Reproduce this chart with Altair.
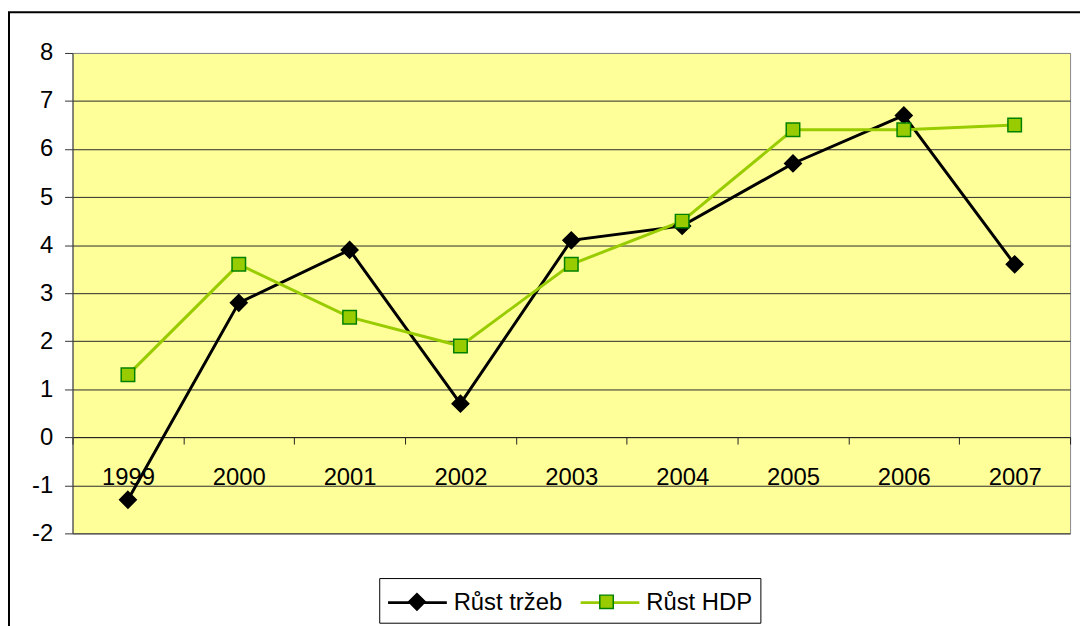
import altair as alt
import pandas as pd

years = [1999, 2000, 2001, 2002, 2003, 2004, 2005, 2006, 2007]
trzeb = [-1.3, 2.8, 3.9, 0.7, 4.1, 4.4, 5.7, 6.7, 3.6]
hdp = [1.3, 3.6, 2.5, 1.9, 3.6, 4.5, 6.4, 6.4, 6.5]
series_names = ["Růst tržeb", "Růst HDP"]
y_ticks = [-2, -1, 0, 1, 2, 3, 4, 5, 6, 7, 8]
x_bounds = [1998.5 + i for i in range(10)]

line_colors = ["#000000", "#99CC00"]
fill_colors = ["#000000", "#99CC00"]
stroke_colors = ["#000000", "#008000"]
# invisible move-to points give marker symbols the same extent as the legend line
ext = "M-1.973,0M1.973,0"
shapes = [ext + "M0,-0.56L0.56,0L0,0.56L-0.56,0Z",
          ext + "M-0.453,-0.453H0.453V0.453H-0.453Z"]
legend_line = "M-1.973,0L1.973,0"

rows = []
for name, vals in zip(series_names, [trzeb, hdp]):
    for yr, v in zip(years, vals):
        rows.append({"year": yr, "value": v, "series": name, "s2": name})
df = pd.DataFrame(rows)

FONT = "Liberation Sans"
FS = 24
SYM = 900

xscale = alt.Scale(domain=[1998.5, 2007.5], nice=False, zero=False)
yscale = alt.Scale(domain=[-2, 8], nice=False, zero=False)
yaxis = alt.Axis(values=y_ticks, title=None, tickSize=8, labelPadding=12,
                 domainColor="#444444", tickColor="#333333",
                 gridColor={"condition": {"test": "datum.value === 8", "value": "#888888"}, "value": "#2a2a2a"},
                 labelExpr="replace(datum.label, '\u2212', '-')",
                 labelFont=FONT, labelFontSize=FS, labelColor="black")

legend_common = dict(orient="none", legendX=309, legendY=529, direction="horizontal",
                     title=None, symbolSize=SYM, symbolOffset=14, labelFont=FONT,
                     labelFontSize=FS, columnPadding=11, padding=8, labelLimit=400)

base = alt.Chart(df)

lines = base.mark_line(strokeWidth=3).encode(
    x=alt.X("year:Q", scale=xscale,
            axis=alt.Axis(values=x_bounds, labels=False, tickSize=7, tickColor="#222222",
                          domainColor="#222222", grid=False, offset=-97, title=None,
                          orient="bottom")),
    y=alt.Y("value:Q", scale=yscale, axis=yaxis),
    color=alt.Color("series:N", sort=series_names, scale=alt.Scale(range=line_colors),
                    legend=alt.Legend(symbolType=legend_line, symbolStrokeWidth=3,
                                      strokeColor="black", fillColor="white",
                                      labelColor="black", labelOffset=20, **legend_common)),
)

pt_legend = alt.Legend(labelOpacity=0, symbolStrokeWidth=1.5, zindex=1, labelOffset=21.5,
                       **legend_common)

points = base.mark_point(filled=True, size=SYM, strokeWidth=1.5, opacity=1).encode(
    x=alt.X("year:Q", scale=xscale,
            axis=alt.Axis(values=years, ticks=False, domain=False, labelPadding=29,
                          offset=-97, format="d", title=None, grid=False, orient="bottom",
                          labelFont=FONT, labelFontSize=FS, labelColor="black")),
    y=alt.Y("value:Q", scale=yscale, axis=yaxis),
    shape=alt.Shape("s2:N", scale=alt.Scale(domain=series_names, range=shapes), legend=pt_legend),
    fill=alt.Fill("s2:N", scale=alt.Scale(domain=series_names, range=fill_colors), legend=pt_legend),
    stroke=alt.Stroke("s2:N", scale=alt.Scale(domain=series_names, range=stroke_colors), legend=pt_legend),
)

frame = alt.Chart(pd.DataFrame({"a": [0]})).mark_rect(
    fillOpacity=0, stroke="black", strokeWidth=2
).encode(x=alt.value(-64), y=alt.value(-41), x2=alt.value(1200), y2=alt.value(800))

chart = alt.layer(lines, points, frame).resolve_axis(x="independent").properties(
    width=1005, height=484,
    autosize=alt.AutoSizeParams(type="none"),
    padding={"left": 65, "top": 43, "right": 10, "bottom": 91},
).configure_view(fill="#FFFF99", stroke="#888888", strokeWidth=1)

chart.save("out.html", embed_options={"renderer": "svg", "actions": False})
